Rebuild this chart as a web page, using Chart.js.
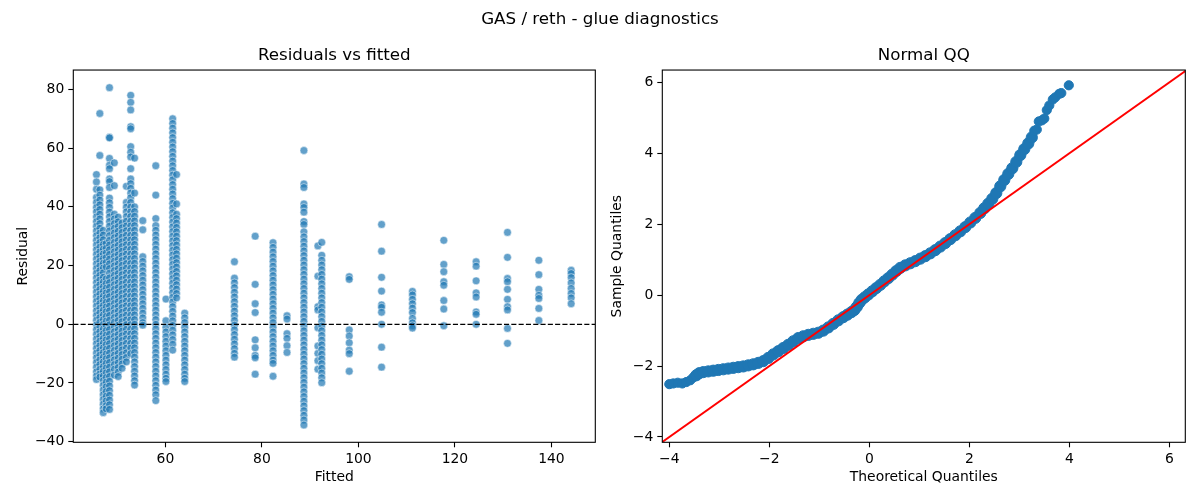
<!DOCTYPE html>
<html>
<head>
<meta charset="utf-8">
<script src="https://cdn.jsdelivr.net/npm/chart.js@4.4.1/dist/chart.umd.min.js"></script>
<style>
  html, body { margin: 0; padding: 0; background: #fff; }
  #page { position: relative; width: 1200px; height: 500px; overflow: hidden; }
  .panel { position: absolute; top: 0; width: 600px; height: 500px; }
  #suptitle {
    position: absolute; left: 0; top: 0; width: 1200px; height: 36px;
    line-height: 36px; text-align: center; pointer-events: none;
    font-family: "DejaVu Sans", sans-serif; font-size: 16.7px; color: #000;
  }
</style>
</head>
<body>
<div id="page">
  <div class="panel" style="left:0"><canvas id="resid" width="600" height="500"></canvas></div>
  <div class="panel" style="left:600px"><canvas id="qq" width="600" height="500"></canvas></div>
  <div id="suptitle">GAS / reth - glue diagnostics</div>
</div>
<script>
const fittedLevels = [45.7, 46.4, 47.1, 47.7, 48.4, 49.4, 50.2, 51.0, 51.9, 52.8, 53.6, 55.3,
  58.0, 60.1, 61.5, 62.3, 64.0, 74.3, 78.6, 82.3, 85.2, 88.7, 91.6, 92.4, 98.1, 104.8,
  111.2, 117.7, 124.4, 130.9, 137.4, 144.1]

const residualColumns = [
  [51, 48.5, 46, 43.2, 41.5, 39.8, 38.3, 36.6, 35, 33.4, 31.8, 30.2, 28.6, 27, 25.4, 23.8, 22.2, 20.6, 19, 17.4, 15.8, 14.2, 12.6, 11, 9.4, 7.8, 6.2, 4.6, 3, 1.4, -0.2, -1.8, -3.4, -5, -6.6, -8.2, -9.8, -11.4, -13, -14.6, -16.2, -17.6, -18.8],
  [71.8, 57.5, 45.8, 44, 42.3, 40.7, 39.1, 37.5, 35.9, 34.3, 32.7, 31.1, 29.5, 27.9, 26.3, 24.7, 23.1, 21.5, 19.9, 18.3, 16.7, 15.1, 13.5, 11.9, 10.3, 8.7, 7.1, 5.5, 3.9, 2.3, 0.7, -0.9, -2.5, -4.1, -5.7, -7.3, -8.9, -10.5, -12.1, -13.7, -15.3, -16.9, -18],
  [32, 30.4, 28.8, 27.2, 25.6, 24, 22.4, 20.8, 19.2, 17.6, 16, 14.4, 12.8, 11.2, 9.6, 8, 6.4, 4.8, 3.2, 1.6, 0, -1.6, -3.2, -4.8, -6.4, -8, -9.6, -11.2, -12.8, -14.4, -16, -17.6, -19.2, -20.8, -22.4, -24, -25.6, -27.2, -28.8, -30.1],
  [27.5, 25.9, 24.3, 22.7, 21.1, 19.5, 15.5, 13.9, 12.3, 10.7, 9.1, 7.5, 5.9, 4.3, 2.7, 1.1, -0.5, -2.1, -3.7, -5.3, -6.9, -8.5, -10.1, -11.7, -13.3, -14.9, -16.5, -18.1, -19.7, -21.3, -22.9, -24.5, -26.1, -27.7, -28.8],
  [80.6, 63.7, 63.5, 56.5, 54.2, 53, 49.5, 48.6, 46.6, 43, 41.4, 39.8, 38.2, 36.6, 35, 33.4, 31.8, 30.2, 28.6, 27, 25.4, 23.8, 22.2, 20.6, 19, 17.4, 15.8, 14.2, 12.6, 11, 9.4, 7.8, 6.2, 4.6, 3, 1.4, -0.2, -1.8, -3.4, -5, -6.6, -8.2, -9.8, -11.4, -13, -14.6, -16.2, -17.8, -19.4, -21, -22.6, -24.2, -25.8, -27.4, -29],
  [55, 47.2, 37.5, 35.9, 34.3, 32.7, 31.1, 29.5, 27.9, 26.3, 24.7, 23.1, 21.5, 19.9, 18.3, 16.7, 15.1, 13.5, 11.9, 10.3, 8.7, 7.1, 5.5, 3.9, 2.3, 0.7, -0.9, -2.5, -4.1, -5.7, -7.3, -8.9, -10.5, -12.1, -13.7, -15.3, -17.3],
  [36.5, 34.9, 33.3, 31.7, 30.1, 28.5, 26.9, 25.3, 23.7, 22.1, 20.5, 18.9, 17.3, 15.7, 14.1, 12.5, 10.9, 9.3, 7.7, 6.1, 4.5, 2.9, 1.3, -0.3, -1.9, -3.5, -5.1, -6.7, -8.3, -9.9, -11.5, -13.1, -14.7, -16.3, -17.8],
  [34.5, 32.9, 31.3, 29.7, 28.1, 26.5, 24.9, 23.3, 21.7, 20.1, 18.5, 16.9, 15.3, 13.7, 12.1, 10.5, 8.9, 7.3, 5.7, 4.1, 2.5, 0.9, -0.7, -2.3, -3.9, -5.5, -7.1, -8.7, -10.3, -11.9, -13.5, -15],
  [47, 41.5, 39.9, 38.3, 36.7, 35.1, 33.5, 31.9, 30.3, 28.7, 27.1, 25.5, 23.9, 22.3, 20.7, 19.1, 17.5, 15.9, 14.3, 12.7, 11.1, 9.5, 7.9, 6.3, 4.7, 3.1, 1.5, -0.1, -1.7, -3.3, -4.9, -6.5, -8.1, -9.7, -11.3, -12.8],
  [78, 75.6, 73, 67.3, 66.6, 60.5, 58.6, 57, 53, 49.5, 47.9, 46.3, 44.7, 43.1, 41.5, 39.9, 38.3, 36.7, 35.1, 33.5, 31.9, 30.3, 28.7, 27.1, 25.5, 23.9, 22.3, 20.7, 19.1, 17.5, 15.9, 14.3, 12.7, 11.1, 9.5, 7.9, 6.3, 4.7, 3.1, 1.5, -0.1, -1.7, -3.3, -4.9, -6.5, -8.1, -10],
  [56.6, 44.7, 40, 38.4, 36.8, 35.2, 33.6, 32, 30.4, 28.8, 27.2, 25.6, 24, 22.4, 20.8, 19.2, 17.6, 16, 14.4, 12.8, 11.2, 9.6, 8, 6.4, 4.8, 3.2, 1.6, 0, -1.6, -3.2, -4.8, -6.4, -8, -9.6, -11.2, -12.8, -14.4, -16, -17.6, -19.2, -20.7],
  [35.3, 32.2, 23, 21.4, 19.8, 18.2, 16.6, 15, 13.4, 11.8, 10.2, 8.6, 7, 5.4, 3.8, 2.2, 0.6, -0.3],
  [54, 44, 36, 33.6, 32, 30.4, 28.8, 27.2, 25.6, 24, 22.4, 20.8, 19.2, 17.6, 16, 14.4, 12.8, 11.2, 9.6, 8, 6.4, 4.8, 3.2, 1.6, 0, -1.6, -3.2, -4.8, -6.4, -8, -9.6, -11.2, -12.8, -14.4, -16, -17.6, -19.2, -20.8, -22.4, -24, -26],
  [8.6, 1.2, -1, -2.6, -4.2, -5.8, -7.4, -9, -10.6, -12.2, -13.8, -15.4, -17, -18.4, -19.5],
  [70, 68.4, 66.8, 65.2, 63.6, 62, 60.4, 58.8, 57.2, 55.6, 54, 52.4, 50.8, 49.2, 47.6, 46, 44.4, 42.8, 41.2, 39.6, 38, 36.4, 34.8, 33.2, 31.6, 30, 28.4, 26.8, 25.2, 23.6, 22, 20.4, 18.8, 17.2, 15.6, 14, 12.4, 10.8, 9.2, 7.6, 6, 4.4, 2.8, 1.2, -0.4, -2, -3.6, -5.2, -6.8, -8.8],
  [51, 41, 37.5, 36, 34.5, 33, 31.5, 30, 28.5, 27, 25.5, 24, 22.5, 21, 19.5, 18, 16.5, 15, 13.5, 12, 10.5, 9],
  [3.8, 2.2, 0.6, -1, -2.6, -4.2, -5.8, -7.4, -9, -10.6, -12.2, -13.8, -15.4, -17, -18.4, -19.5],
  [21.3, 15.7, 14.1, 12.5, 10.9, 9.3, 7.7, 6.1, 4.5, 2.9, 1.3, -0.3, -1.9, -3.5, -5.1, -6.7, -8.3, -9.9, -11.2],
  [30, 13.6, 7, 4, -5.3, -8, -10.6, -11.4, -17],
  [27.8, 26.2, 24.6, 23, 21.4, 19.8, 18.2, 16.6, 15, 13.4, 11.8, 10.2, 8.6, 7, 5.4, 3.8, 2.2, 0.6, -1, -2.6, -4.2, -5.8, -7.4, -9, -10.6, -12.2, -13.3, -17.7],
  [2.9, 1.8, -3.2, -4.8, -7.3, -9.6],
  [59.2, 47.8, 46.6, 41, 39.8, 38.2, 35, 34, 31.5, 29.8, 28.2, 26.6, 25, 23.4, 21.8, 20.2, 18.6, 17, 15.4, 13.8, 12.2, 10.6, 9, 7.4, 5.8, 4.2, 2.6, 1, -0.6, -2.2, -3.8, -5.4, -7, -8.6, -10.2, -11.8, -13.4, -15, -16.6, -18.2, -19.8, -21.4, -23, -24.6, -26.2, -27.8, -29.4, -31, -32.6, -34.3],
  [26.7, 16.4, 6, 4.9, -1.2, -7.4, -9.9, -12.4, -15.3],
  [27.9, 23.5, 21.8, 20.2, 18.6, 17, 15.4, 13.8, 12.2, 10.6, 9, 7.4, 5.8, 4.2, 2.6, 1, -0.6, -2.2, -3.8, -5.4, -7, -8.6, -10.2, -11.8, -13.4, -15, -16.6, -18.2, -19.9],
  [16.2, 15.3, -1.9, -4, -6.3, -8.8, -10, -16],
  [34, 24.9, 16, 11.3, 6.6, 5.8, 4.1, 0, -7.8, -14.6],
  [11.2, 10, 8.5, 7, 5.5, 4, 2, 0.5, -0.5, -1.3],
  [28.6, 20.4, 17.9, 14.5, 13.3, 8.1, 5.2, -0.5],
  [21.3, 19.8, 14.8, 10.7, 9.3, 4.2, 3.4, 0],
  [31.3, 22.8, 15.6, 14.5, 11.9, 8.5, 6, 4.9, -1.4, -6.5],
  [21.8, 16.9, 11.9, 9.9, 8.8, 5.4, 1.3],
  [18.4, 17.3, 15.9, 14.1, 12.2, 10.5, 9, 7]
]

// normal QQ: theoretical vs sample quantiles
const qqTheoretical = [-4.00, -3.92, -3.83, -3.74, -3.66, -3.58, -3.52, -3.46, -3.40, -3.32,
  -3.22, -3.12, -3.02, -2.92, -2.82, -2.72, -2.62, -2.52, -2.42, -2.32, -2.22, -2.12, -2.02,
  -1.92, -1.82, -1.72, -1.62, -1.52, -1.42, -1.32, -1.22, -1.12, -1.02, -0.92, -0.82, -0.72,
  -0.62, -0.52, -0.44, -0.36, -0.30, -0.25, -0.20, -0.15, -0.09, -0.02, 0.06, 0.14, 0.22,
  0.30, 0.38, 0.46, 0.54, 0.62, 0.72, 0.82, 0.92, 1.02, 1.12, 1.22, 1.32, 1.42, 1.52, 1.62,
  1.72, 1.82, 1.92, 2.02, 2.12, 2.22, 2.30, 2.38, 2.46, 2.54, 2.62, 2.70, 2.78, 2.86, 2.94,
  3.02, 3.10, 3.18, 3.25, 3.30, 3.35, 3.39, 3.45, 3.50, 3.55, 3.60, 3.67, 3.72, 3.80, 3.84, 3.99]
const qqSample = [-2.51, -2.49, -2.47, -2.49, -2.45, -2.40, -2.32, -2.26, -2.20, -2.17,
  -2.15, -2.13, -2.11, -2.09, -2.07, -2.05, -2.03, -2.01, -1.98, -1.95, -1.91, -1.86, -1.77,
  -1.67, -1.58, -1.49, -1.40, -1.30, -1.21, -1.16, -1.12, -1.09, -1.06, -1.00, -0.91, -0.81,
  -0.71, -0.62, -0.55, -0.48, -0.42, -0.33, -0.22, -0.13, -0.06, 0.02, 0.11, 0.20, 0.29,
  0.39, 0.48, 0.58, 0.68, 0.77, 0.84, 0.90, 0.96, 1.03, 1.10, 1.18, 1.27, 1.37, 1.47, 1.58,
  1.69, 1.80, 1.92, 2.05, 2.18, 2.32, 2.45, 2.58, 2.72, 2.88, 3.07, 3.25, 3.42, 3.58, 3.76,
  3.95, 4.12, 4.28, 4.45, 4.64, 4.67, 4.90, 4.93, 4.98, 5.22, 5.35, 5.52, 5.58, 5.68, 5.70, 5.92]

const fittedTicks = [60, 80, 100, 120, 140]
const residTicks = [-40, -20, 0, 20, 40, 60, 80]
const qqTicks = [-4, -2, 0, 2, 4, 6]

const FONT = "DejaVu Sans"
Chart.defaults.font.family = FONT
Chart.defaults.font.size = 13.9
Chart.defaults.color = "#000"

const minus = v => (v < 0 ? "\u2212" + Math.abs(v) : String(v))

// matplotlib style frame round the plot area
const frame = {
  id: "frame",
  afterDatasetsDraw(chart) {
    const { ctx, chartArea: a } = chart
    ctx.save()
    ctx.strokeStyle = "#000"
    ctx.lineWidth = 1.1
    ctx.strokeRect(a.left, a.top, a.right - a.left, a.bottom - a.top)
    ctx.restore()
  }
}

const axis = (min, max, ticks, label, extra) => ({
  type: "linear",
  min,
  max,
  afterBuildTicks: s => { s.ticks = ticks.map(v => ({ value: v })) },
  grid: { display: true, drawOnChartArea: false, drawTicks: true, tickLength: 5, tickColor: "#000", tickWidth: 1.1 },
  border: { display: false },
  ticks: { padding: 4, callback: minus, maxRotation: 0, autoSkip: false },
  title: { display: true, text: label, font: { size: 13.9 }, ...extra }
})

// fullSize false keeps the title centred over the plot area, not the canvas
const panelTitle = text => ({
  display: true,
  fullSize: false,
  text,
  color: "#000",
  font: { size: 16.7, weight: "normal" },
  padding: { top: 46, bottom: 4 }
})

const residPoints = []
fittedLevels.forEach((f, i) => {
  residualColumns[i].forEach(r => residPoints.push({ x: f, y: r }))
})

// the crowded middle of the QQ curve reads as a thicker band than the sparse tails
const qqRadius = ctx => {
  const p = ctx.raw
  return p && p.x > -3.5 && p.x < 3.3 ? 5.6 : 4.6
}

new Chart(document.getElementById("resid"), {
  type: "scatter",
  data: {
    datasets: [
      {
        type: "line",
        data: [{ x: 40.9, y: 0 }, { x: 149.1, y: 0 }],
        borderColor: "#000",
        borderWidth: 1.3,
        borderDash: [5.1, 2.2],
        pointRadius: 0,
        order: 0
      },
      {
        data: residPoints,
        backgroundColor: "rgba(31,119,180,0.7)",
        borderColor: "rgba(255,255,255,0.7)",
        borderWidth: 0.7,
        pointRadius: 3.9,
        order: 1
      }
    ]
  },
  options: {
    responsive: false,
    animation: false,
    layout: { padding: { top: 0, right: 2.7, bottom: 0, left: 0 } },
    plugins: { legend: { display: false }, tooltip: { enabled: false }, title: panelTitle("Residuals vs fitted") },
    scales: {
      x: { ...axis(40.9, 149.1, fittedTicks, "Fitted", { padding: { top: 0, bottom: 14.5 } }), afterFit: s => { s.height = 57.7 } },
      y: { ...axis(-40.2, 86.6, residTicks, "Residual", { padding: { top: 15, bottom: 0 } }), afterFit: s => { s.width = 73.3 } }
    }
  },
  plugins: [frame]
})

new Chart(document.getElementById("qq"), {
  type: "scatter",
  data: {
    datasets: [
      {
        type: "line",
        data: [{ x: -4.15, y: -4.15 }, { x: 6.35, y: 6.35 }],
        borderColor: "#ff0000",
        borderWidth: 2,
        pointRadius: 0,
        order: 0
      },
      {
        data: qqTheoretical.map((q, i) => ({ x: q, y: qqSample[i] })),
        backgroundColor: "#1f77b4",
        borderColor: "#1f77b4",
        borderWidth: 1,
        pointRadius: qqRadius,
        order: 1
      }
    ]
  },
  options: {
    responsive: false,
    animation: false,
    layout: { padding: { top: 0, right: 14.7, bottom: 0, left: 0 } },
    plugins: { legend: { display: false }, tooltip: { enabled: false }, title: panelTitle("Normal QQ") },
    scales: {
      x: { ...axis(-4.14, 6.32, qqTicks, "Theoretical Quantiles", { padding: { top: 0, bottom: 14.5 } }), afterFit: s => { s.height = 57.7 } },
      y: { ...axis(-4.15, 6.35, qqTicks, "Sample Quantiles", { padding: { top: 9, bottom: 0 } }), afterFit: s => { s.width = 62.3 } }
    }
  },
  plugins: [frame]
})
</script>
</body>
</html>
